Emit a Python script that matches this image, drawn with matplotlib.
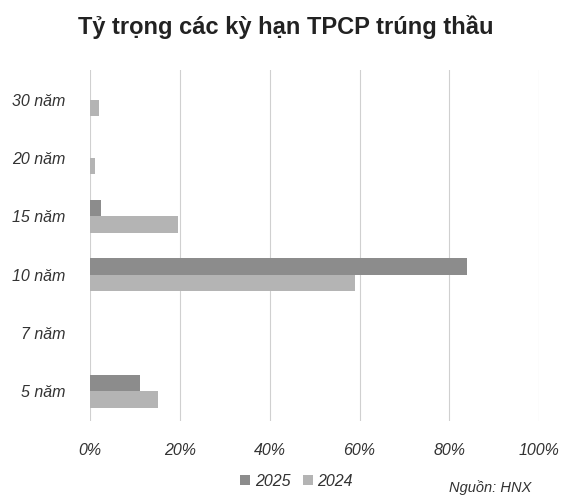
import numpy as np
import matplotlib.pyplot as plt

# Dữ liệu
ky_han = ['5 năm', '7 năm', '10 năm', '15 năm', '20 năm', '30 năm']
ty_trong_2025 = [11, 0, 84, 2.5, 0, 0]
ty_trong_2024 = [15, 0, 59, 19.5, 1, 2]
nhan_x = ['0%', '20%', '40%', '60%', '80%', '100%']

plt.rcParams['font.family'] = ['Liberation Sans', 'DejaVu Sans']

fig = plt.figure(figsize=(5.71, 4.96), dpi=100)
ax = fig.add_axes([0.158, 0.152, 0.786, 0.706])

y = np.arange(len(ky_han))
h = 0.28
ax.barh(y + h / 2, ty_trong_2025, height=h, color='#8c8c8c', label='2025', zorder=3)
ax.barh(y - h / 2, ty_trong_2024, height=h, color='#b4b4b4', label='2024', zorder=3)

ax.set_xlim(0, 100)
ax.set_ylim(-0.5, len(ky_han) - 0.5)
ax.set_xticks(np.arange(0, 101, 20))
ax.set_xticklabels(nhan_x, fontsize=11.5, style='italic', color='#333333')
ax.set_yticks(y)
ax.set_yticklabels(ky_han, fontsize=11.5, style='italic', color='#333333')
ax.tick_params(length=0, pad=16)
ax.tick_params(axis='y', pad=18)
ax.grid(axis='x', color='#d0d0d0', linewidth=0.8, zorder=0)
for s in ax.spines.values():
    s.set_visible(False)

fig.suptitle('Tỷ trọng các kỳ hạn TPCP trúng thầu', x=0.5, y=0.97,
             fontsize=17, fontweight='bold', color='#222222')

ax.legend(loc='lower center', bbox_to_anchor=(0.46, -0.235), ncol=2, frameon=False,
          prop={'size': 11.5, 'style': 'italic'}, handlelength=0.6, handleheight=0.6,
          handletextpad=0.3, columnspacing=0.8, labelcolor='#333333')

fig.text(0.93, 0.008, 'Nguồn: HNX', fontsize=10.5, style='italic', color='#333333', ha='right')

fig.savefig('out.png', dpi=100, facecolor='white')
